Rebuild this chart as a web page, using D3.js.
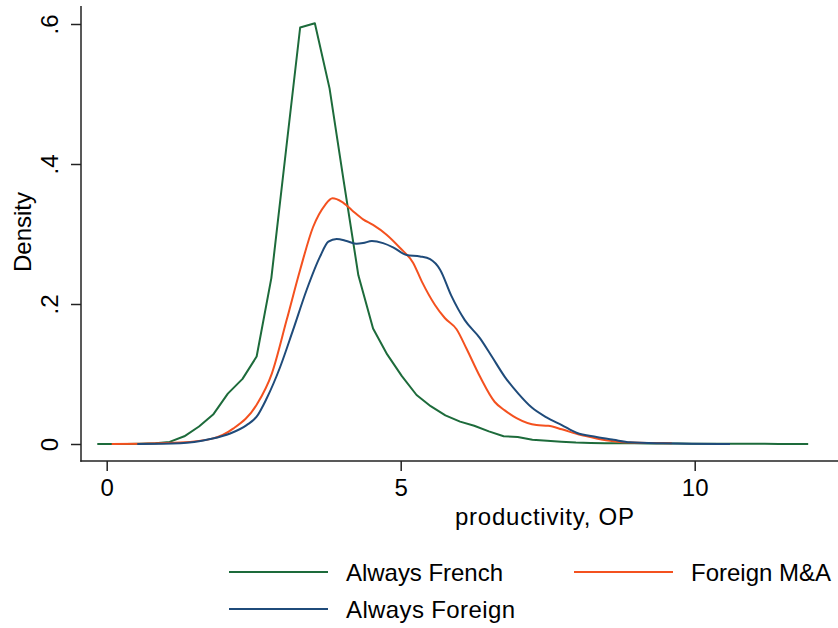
<!DOCTYPE html>
<html>
<head>
<meta charset="utf-8">
<script src="https://cdn.jsdelivr.net/npm/d3@7"></script>
<style>
  body { margin: 0; background: #fff; }
  text { font-family: "Liberation Sans", Arial, sans-serif; fill: #000; }
</style>
</head>
<body>
<svg id="chart"></svg>
<script>
// series names as in the legend
const seriesNames = ['Always French', 'Foreign M&A', 'Always Foreign'];
const seriesColors = ['#1d6b3b', '#f4511f', '#1f4b7a'];

// Always French (kernel density, coarse grid)
const frenchX = [-0.16, 0.09, 0.33, 0.58, 0.83, 1.07, 1.32, 1.57, 1.81, 2.06, 2.31, 2.55, 2.80, 3.05, 3.29,
  3.54, 3.79, 4.03, 4.28, 4.53, 4.77, 5.02, 5.27, 5.51, 5.76, 6.01, 6.25, 6.50, 6.75, 6.99, 7.24, 7.49,
  7.73, 7.98, 8.23, 8.47, 8.72, 8.97, 9.21, 9.46, 9.71, 9.95, 10.20, 10.45, 10.69, 10.94, 11.19, 11.43,
  11.68, 11.93];
const frenchY = [0, 0, 0, 0.0005, 0.001, 0.003, 0.011, 0.025, 0.042, 0.072, 0.093, 0.125, 0.237, 0.42, 0.595,
  0.601, 0.508, 0.376, 0.241, 0.165, 0.128, 0.097, 0.070, 0.054, 0.041, 0.032, 0.026, 0.018, 0.011, 0.010,
  0.006, 0.0045, 0.0033, 0.002, 0.0015, 0.0012, 0.001, 0.001, 0.0008, 0.0007, 0.0006, 0.0005, 0.0004,
  0.0003, 0.0003, 0.0002, 0.0002, 0.0001, 0.0001, 0.0001];

// Foreign M&A
const maX = [0.085, 0.6, 1.25, 1.81, 2.15, 2.55, 2.81, 3.06, 3.29, 3.51, 3.71, 3.84, 4.0, 4.17, 4.36, 4.53,
  4.76, 4.99, 5.21, 5.36, 5.58, 5.75, 5.95, 6.12, 6.35, 6.60, 6.77, 6.97, 7.31, 7.51, 7.74, 8.05, 8.33,
  8.62, 8.90, 9.61];
const maY = [0, 0.0005, 0.002, 0.008, 0.022, 0.056, 0.101, 0.177, 0.249, 0.310, 0.341, 0.351, 0.346, 0.334,
  0.321, 0.313, 0.299, 0.280, 0.259, 0.232, 0.199, 0.180, 0.164, 0.136, 0.096, 0.060, 0.048, 0.037, 0.027,
  0.026, 0.021, 0.013, 0.008, 0.004, 0.002, 0.001];

// Always Foreign
const foreignX = [0.52, 1.25, 1.76, 2.10, 2.38, 2.55, 2.72, 2.95, 3.17, 3.40, 3.63, 3.77, 3.91, 4.08, 4.25,
  4.36, 4.51, 4.70, 4.87, 5.10, 5.33, 5.50, 5.67, 5.86, 6.09, 6.35, 6.55, 6.77, 7.00, 7.23, 7.48, 7.74,
  7.99, 8.33, 8.62, 8.90, 9.47, 10.6];
const foreignY = [0, 0.001, 0.007, 0.015, 0.027, 0.039, 0.065, 0.110, 0.163, 0.220, 0.268, 0.289, 0.293,
  0.290, 0.286, 0.287, 0.290, 0.287, 0.281, 0.270, 0.268, 0.264, 0.249, 0.212, 0.177, 0.151, 0.125, 0.096,
  0.072, 0.052, 0.038, 0.027, 0.016, 0.010, 0.006, 0.0024, 0.001, 0];

const xTicks = [0, 5, 10];
const yTicks = [0, 0.2, 0.4, 0.6];
const yTickLabels = ['0', '.2', '.4', '.6'];

const W = 838, H = 628;
const FONT = 24;

const svg = d3.select('#chart').attr('width', W).attr('height', H);

const x = d3.scaleLinear().domain([0, 10]).range([106.7, 694.7]);
const y = d3.scaleLinear().domain([0, 0.6]).range([444, 24]);

// plot region edges
const plotLeft = 81, plotBottom = 461, plotTop = 6, plotRight = W;

const series = [
  { x: frenchX, y: frenchY, curve: d3.curveLinear },
  { x: maX, y: maY, curve: d3.curveMonotoneX },
  { x: foreignX, y: foreignY, curve: d3.curveMonotoneX }
];

const line = d3.line().x(d => x(d[0])).y(d => y(d[1]));

svg.append('g')
  .selectAll('path')
  .data(series)
  .enter()
  .append('path')
  .attr('fill', 'none')
  .attr('stroke', (d, i) => seriesColors[i])
  .attr('stroke-width', 2)
  .attr('stroke-linejoin', 'round')
  .attr('d', d => line.curve(d.curve)(d3.zip(d.x, d.y)));

// axes
const yAxis = svg.append('g')
  .attr('transform', `translate(${plotLeft},0)`)
  .call(d3.axisLeft(y).tickValues(yTicks).tickSize(10).tickSizeOuter(0)
    .tickFormat((d, i) => yTickLabels[i]));
yAxis.select('.domain').remove();
yAxis.selectAll('.tick line').attr('stroke', '#222').attr('stroke-width', 1.5);
yAxis.selectAll('.tick text')
  .attr('x', null).attr('dy', null)
  .attr('transform', 'translate(-23,0) rotate(-90)')
  .attr('text-anchor', 'middle')
  .style('font-size', FONT + 'px')
  .style('font-family', '"Liberation Sans", Arial, sans-serif');

const xAxis = svg.append('g')
  .attr('transform', `translate(0,${plotBottom})`)
  .call(d3.axisBottom(x).tickValues(xTicks).tickSize(10).tickSizeOuter(0).tickFormat(d3.format('d')));
xAxis.select('.domain').remove();
xAxis.selectAll('.tick line').attr('stroke', '#222').attr('stroke-width', 1.5);
xAxis.selectAll('.tick text')
  .attr('y', 35).attr('dy', null)
  .style('font-size', FONT + 'px')
  .style('font-family', '"Liberation Sans", Arial, sans-serif');

svg.append('line')
  .attr('x1', plotLeft).attr('x2', plotLeft).attr('y1', plotTop).attr('y2', plotBottom + 0.75)
  .attr('stroke', '#222').attr('stroke-width', 1.5);
svg.append('line')
  .attr('x1', plotLeft - 0.75).attr('x2', plotRight).attr('y1', plotBottom).attr('y2', plotBottom)
  .attr('stroke', '#222').attr('stroke-width', 1.5);

// titles
svg.append('text')
  .attr('transform', 'translate(30.5,232) rotate(-90)')
  .attr('text-anchor', 'middle')
  .style('font-size', FONT + 'px')
  .text('Density');

svg.append('text')
  .attr('x', 544.5).attr('y', 524.5)
  .attr('text-anchor', 'middle')
  .attr('textLength', 179)
  .attr('lengthAdjust', 'spacing')
  .style('font-size', FONT + 'px')
  .text('productivity, OP');

// legend, two columns filled row by row
const legendPos = [[229, 572], [574, 572], [229, 609]];
const legendTextLen = [157, 140, 169];
const legend = svg.append('g')
  .selectAll('g')
  .data(seriesNames)
  .enter()
  .append('g')
  .attr('transform', (d, i) => `translate(${legendPos[i][0]},${legendPos[i][1]})`);

legend.append('line')
  .attr('x1', 0).attr('x2', 99)
  .attr('stroke', (d, i) => seriesColors[i])
  .attr('stroke-width', 2);

legend.append('text')
  .attr('x', 117).attr('y', 8.5)
  .attr('textLength', (d, i) => legendTextLen[i])
  .attr('lengthAdjust', 'spacing')
  .style('font-size', FONT + 'px')
  .text(d => d);
</script>
</body>
</html>
